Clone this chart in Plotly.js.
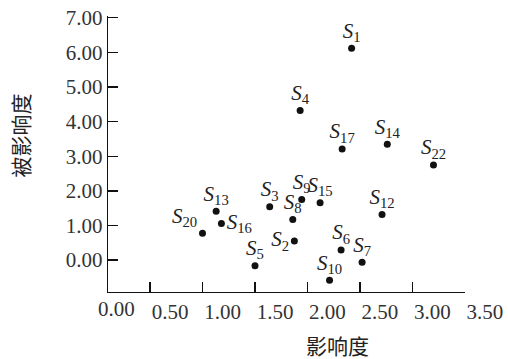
<!DOCTYPE html>
<html>
<head>
<meta charset="utf-8">
<script src="https://cdn.plot.ly/plotly-3.0.1.min.js"></script>
<style>html,body{margin:0;padding:0;background:#fff;}#chart{width:508px;height:359px;}</style>
</head>
<body>
<div id="chart"></div>
<script>
// Data
const nodeIds   = [1, 4, 17, 14, 22, 13, 16, 20, 5, 3, 9, 15, 8, 12, 2, 6, 7, 10];
const influence = [2.42, 1.93, 2.33, 2.76, 3.20, 1.13, 1.18, 1.00, 1.50, 1.64, 1.945, 2.12, 1.86, 2.71, 1.875, 2.32, 2.52, 2.21];
const influenced = [6.12, 4.32, 3.21, 3.35, 2.75, 1.41, 1.06, 0.78, -0.16, 1.54, 1.75, 1.66, 1.17, 1.32, 0.55, 0.29, -0.06, -0.58];
const xTickVals = [0.1, 0.5, 1.0, 1.5, 2.0, 2.5, 3.0, 3.5];
const xTickText = ['0.00', '0.50', '1.00', '1.50', '2.00', '2.50', '3.00', '3.50'];
const yTickVals = [0, 1, 2, 3, 4, 5, 6, 7];
const yTickText = ['0.00', '1.00', '2.00', '3.00', '4.00', '5.00', '6.00', '7.00'];
const xTitle = '影响度';
const yTitle = '被影响度';

// label placement (style)
const labelPos = {16: 'middle right', 20: 'top left', 2: 'middle left'};
const textPositions = nodeIds.map(id => labelPos[id] || 'top center');
const labels = nodeIds.map(id => '<i>S</i><sub>' + id + '</sub>');

// first x tick sits on the y axis; its label is drawn as an annotation
const xText = xTickText.map((t, i) => i === 0 ? '' : t);

const serif = 'Liberation Serif';
const cjk = 'Noto Sans CJK SC';

const trace = {
  type: 'scatter',
  mode: 'markers+text',
  x: influence,
  y: influenced,
  text: labels,
  textposition: textPositions,
  textfont: {family: serif, size: 21, color: '#222'},
  marker: {color: '#111', size: 7},
  cliponaxis: false,
  hoverinfo: 'none'
};

function axisBase() {
  return {
    showline: true,
    linecolor: '#111',
    linewidth: 1.3,
    ticks: 'inside',
    ticklen: 10,
    tickwidth: 1.3,
    tickcolor: '#111',
    showgrid: false,
    zeroline: false,
    tickangle: 0,
    tickfont: {family: serif, size: 21, color: '#333'}
  };
}

const layout = {
  width: 508,
  height: 359,
  font: {family: serif, size: 21, color: '#333'},
  margin: {l: 108, r: 43, t: 16, b: 67},
  paper_bgcolor: '#fff',
  plot_bgcolor: '#fff',
  showlegend: false,
  xaxis: Object.assign(axisBase(), {
    range: [0.1, 3.5001],
    tickmode: 'array',
    tickvals: xTickVals,
    ticktext: xText,
    ticklabelshift: 20
  }),
  yaxis: Object.assign(axisBase(), {
    range: [-0.92, 7.05],
    tickmode: 'array',
    tickvals: yTickVals,
    ticktext: yTickText
  }),
  annotations: [
    {text: xTickText[0], xref: 'paper', yref: 'paper', x: 0.0244, y: -0.0615, xanchor: 'center', yanchor: 'middle',
     showarrow: false, font: {family: serif, size: 21, color: '#333'}},
    {text: xTitle, xref: 'paper', yref: 'paper', x: 0.644, y: -0.192, xanchor: 'center', yanchor: 'middle',
     showarrow: false, font: {family: cjk, size: 21, color: '#222'}},
    {text: yTitle, xref: 'paper', yref: 'paper', x: -0.246, y: 0.568, xanchor: 'center', yanchor: 'middle',
     textangle: -90, showarrow: false, font: {family: cjk, size: 21, color: '#222'}}
  ]
};

Plotly.newPlot('chart', [trace], layout, {staticPlot: true, displayModeBar: false});
</script>
</body>
</html>
